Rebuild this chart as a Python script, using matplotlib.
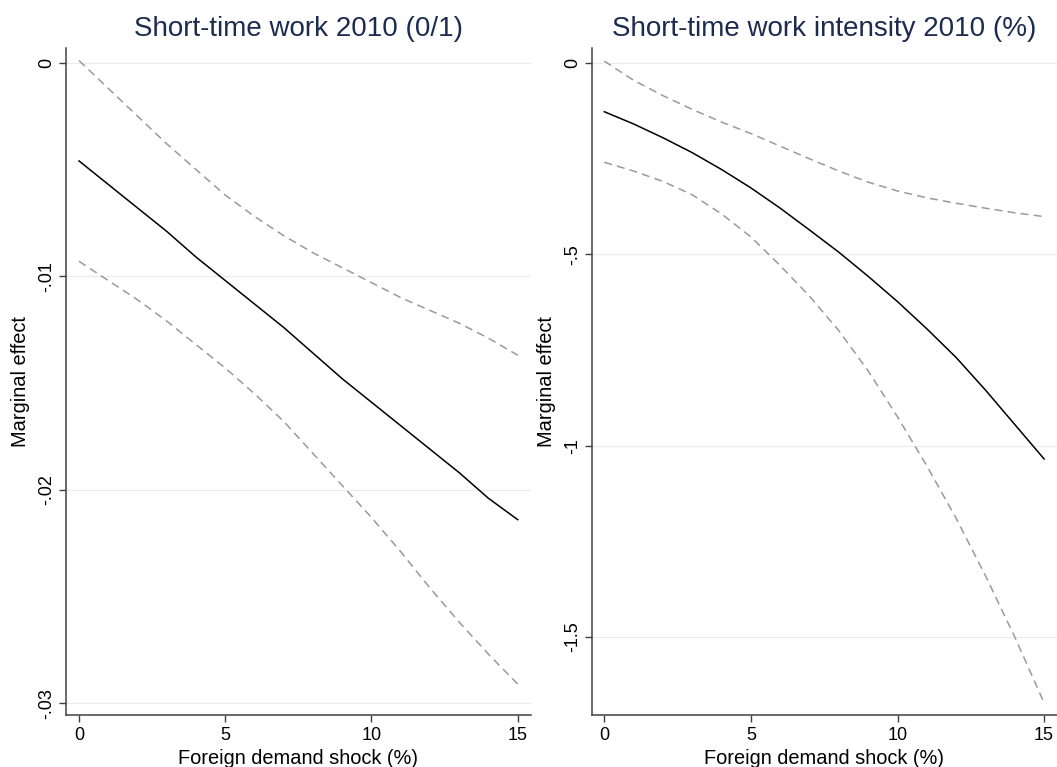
import matplotlib
matplotlib.use("Agg")
import matplotlib.pyplot as plt
from matplotlib.ticker import FixedLocator

plt.rcParams['font.family'] = ['Liberation Sans', 'DejaVu Sans']

# ---------------- data ----------------
shock = [0, 1, 2, 3, 4, 5, 6, 7, 8, 9, 10, 11, 12, 13, 14, 15]

stw_effect = [-0.0046, -0.0057, -0.0068, -0.0079, -0.0091, -0.0102, -0.0113, -0.0124,
              -0.0136, -0.0148, -0.0159, -0.0170, -0.0181, -0.0192, -0.0204, -0.0214]
stw_upper = [0.0001, -0.0012, -0.0025, -0.0038, -0.0050, -0.0062, -0.0072, -0.0081,
             -0.0089, -0.0096, -0.0103, -0.0110, -0.0116, -0.0122, -0.0129, -0.0137]
stw_lower = [-0.0093, -0.0102, -0.0111, -0.0121, -0.0132, -0.0143, -0.0155, -0.0168,
             -0.0183, -0.0198, -0.0213, -0.0229, -0.0246, -0.0262, -0.0277, -0.0291]

int_effect = [-0.128, -0.160, -0.196, -0.235, -0.279, -0.327, -0.380, -0.437,
              -0.495, -0.558, -0.624, -0.695, -0.770, -0.855, -0.945, -1.035]
int_upper = [0.004, -0.046, -0.086, -0.122, -0.155, -0.185, -0.218, -0.251,
             -0.283, -0.312, -0.335, -0.353, -0.367, -0.380, -0.392, -0.402]
int_lower = [-0.260, -0.283, -0.310, -0.345, -0.395, -0.455, -0.530, -0.610,
             -0.700, -0.805, -0.925, -1.053, -1.190, -1.340, -1.500, -1.672]

titles = ["Short-time work 2010 (0/1)", "Short-time work intensity 2010 (%)"]
xlabel = "Foreign demand shock (%)"
ylabel = "Marginal effect"
xticks = [0, 5, 10, 15]
xtick_labels = ["0", "5", "10", "15"]
yticks_left = [0, -0.01, -0.02, -0.03]
ytick_labels_left = ["0", "-.01", "-.02", "-.03"]
yticks_right = [0, -0.5, -1, -1.5]
ytick_labels_right = ["0", "-.5", "-1", "-1.5"]

# ---------------- figure ----------------
W, H = 1057, 767
fig = plt.figure(figsize=(W / 100, H / 100), dpi=100)
fig.patch.set_facecolor('white')

title_color = '#1c2b50'
ci_color = '#9a9a9a'
spine_color = '#404040'

def px_rect(x0, x1, ytop, ybot):
    return [x0 / W, 1 - ybot / H, (x1 - x0) / W, (ybot - ytop) / H]

ax1 = fig.add_axes(px_rect(66, 530.7, 48, 715))
ax2 = fig.add_axes(px_rect(592, 1057, 48, 715))

panels = [
    (ax1, stw_effect, stw_upper, stw_lower, yticks_left, ytick_labels_left,
     (-0.445, 15.445), (-0.03055, 0.00069)),
    (ax2, int_effect, int_upper, int_lower, yticks_right, ytick_labels_right,
     (-0.42, 15.44), (-1.7037, 0.0384)),
]

for i, (ax, eff, up, lo, yt, ytl, xl, yl) in enumerate(panels):
    ax.plot(shock, up, color=ci_color, lw=1.1, linestyle=(0, (5.2, 3.4)))
    ax.plot(shock, lo, color=ci_color, lw=1.1, linestyle=(0, (5.2, 3.4)))
    ax.plot(shock, eff, color='black', lw=1.1)
    ax.set_xlim(*xl)
    ax.set_ylim(*yl)
    ax.xaxis.set_major_locator(FixedLocator(xticks))
    ax.set_xticklabels(xtick_labels)
    ax.yaxis.set_major_locator(FixedLocator(yt))
    ax.set_yticklabels(ytl, rotation=90, va='center', ha='right')
    ax.grid(axis='y', color='#ececec', lw=0.9)
    ax.set_axisbelow(True)
    for s in ['top', 'right']:
        ax.spines[s].set_visible(False)
    for s in ['left', 'bottom']:
        ax.spines[s].set_color(spine_color)
        ax.spines[s].set_linewidth(1.1)
    ax.tick_params(axis='both', direction='out', length=5, width=1.0,
                   color=spine_color, labelsize=13, labelcolor='black')
    ax.tick_params(axis='x', pad=4)
    ax.tick_params(axis='y', pad=3)

    cx = (ax.get_position().x0 + ax.get_position().x1) / 2
    fig.text(cx, 1 - 36 / H, titles[i], ha='center', va='baseline',
             fontsize=20, color=title_color)
    fig.text(cx, 1 - 764 / H, xlabel, ha='center', va='baseline',
             fontsize=14.4, color='black')
    ylx = ax.get_position().x0 - 46 / W
    fig.text(ylx, 1 - 381.5 / H, ylabel, ha='center', va='center',
             rotation=90, fontsize=14.4, color='black')

fig.savefig('out.png', dpi=100, facecolor='white')
